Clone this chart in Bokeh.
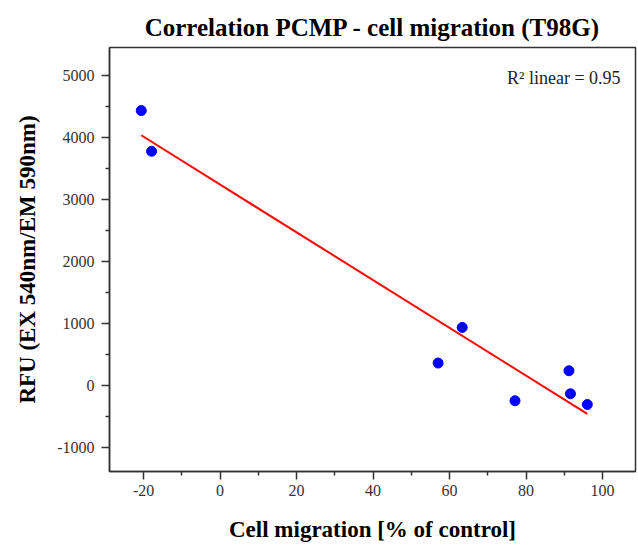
import numpy as np
from bokeh.plotting import figure
from bokeh.models import Range1d, FixedTicker, Label, ColumnDataSource
from bokeh.embed import file_html
from bokeh.resources import INLINE

# Data
cell_migration = [-20.6, -17.9, 57.0, 63.3, 77.1, 91.2, 91.6, 96.0]
rfu = [4435, 3779, 366, 940, -242, 242, -129, -302]
x_ticks = [-20, 0, 20, 40, 60, 80, 100]
x_minor = [-30, -10, 10, 30, 50, 70, 90, 110]
y_ticks = [-1000, 0, 1000, 2000, 3000, 4000, 5000]
y_minor = [-1500, -500, 500, 1500, 2500, 3500, 4500, 5500]
r2_text = "R\u00b2 linear = 0.95"

FONT = "Liberation Serif"

p = figure(width=638, height=548, output_backend="svg", toolbar_location=None,
           x_range=Range1d(-28.9, 108.6), y_range=Range1d(-1382, 5452),
           min_border_left=109, min_border_right=3, min_border_top=47, min_border_bottom=77)

p.title.text = "Correlation PCMP - cell migration (T98G)"
p.title.text_font = FONT
p.title.text_font_size = "25px"
p.title.text_font_style = "bold"
p.title.align = "center"
p.title.text_color = "#000000"
p.title.standoff = 13

p.xgrid.visible = False
p.ygrid.visible = False
p.outline_line_color = "#333333"
p.outline_line_width = 1.5
p.background_fill_color = "white"
p.border_fill_color = "white"

for ax in (p.xaxis[0], p.yaxis[0]):
    ax.axis_line_color = "#333333"
    ax.axis_line_width = 1.5
    ax.major_tick_line_color = "#333333"
    ax.minor_tick_line_color = "#333333"
    ax.major_tick_line_width = 1.5
    ax.minor_tick_line_width = 1.5
    ax.major_tick_out = 8
    ax.major_tick_in = 0
    ax.minor_tick_out = 4
    ax.minor_tick_in = 0
    ax.major_label_text_font = FONT
    ax.major_label_text_font_size = "16px"
    ax.major_label_text_color = "#333333"
    ax.axis_label_text_font = FONT
    ax.axis_label_text_font_size = "23px"
    ax.axis_label_text_font_style = "bold"
    ax.axis_label_text_color = "#000000"

p.xaxis[0].ticker = FixedTicker(ticks=x_ticks, minor_ticks=x_minor)
p.yaxis[0].ticker = FixedTicker(ticks=y_ticks, minor_ticks=y_minor)
p.xaxis[0].major_label_overrides = {t: str(t) for t in x_ticks}
p.yaxis[0].major_label_overrides = {t: str(t) for t in y_ticks}
p.xaxis[0].axis_label = "Cell migration [% of control]"
p.yaxis[0].axis_label = "RFU (EX 540nm/EM 590nm)"
p.xaxis[0].major_label_standoff = 5
p.yaxis[0].major_label_standoff = 7
p.xaxis[0].axis_label_standoff = 18
p.yaxis[0].axis_label_standoff = 14

# Linear fit computed from the data
xs = np.array(cell_migration)
ys = np.array(rfu)
slope, intercept = np.polyfit(xs, ys, 1)
fit_x = [xs.min(), xs.max()]
fit_y = [slope * v + intercept for v in fit_x]
p.line(fit_x, fit_y, line_color="#FF0000", line_width=2)

src = ColumnDataSource(dict(x=cell_migration, y=rfu))
p.scatter("x", "y", source=src, size=10, fill_color="#0000FF", line_color="#0000FF")

p.add_layout(Label(x=104.7, y=4968, text=r2_text, text_align="right",
                   text_baseline="alphabetic", text_font=FONT,
                   text_font_size="18px", text_color="#222222"))

open("out.html", "w").write(file_html(p, INLINE))
